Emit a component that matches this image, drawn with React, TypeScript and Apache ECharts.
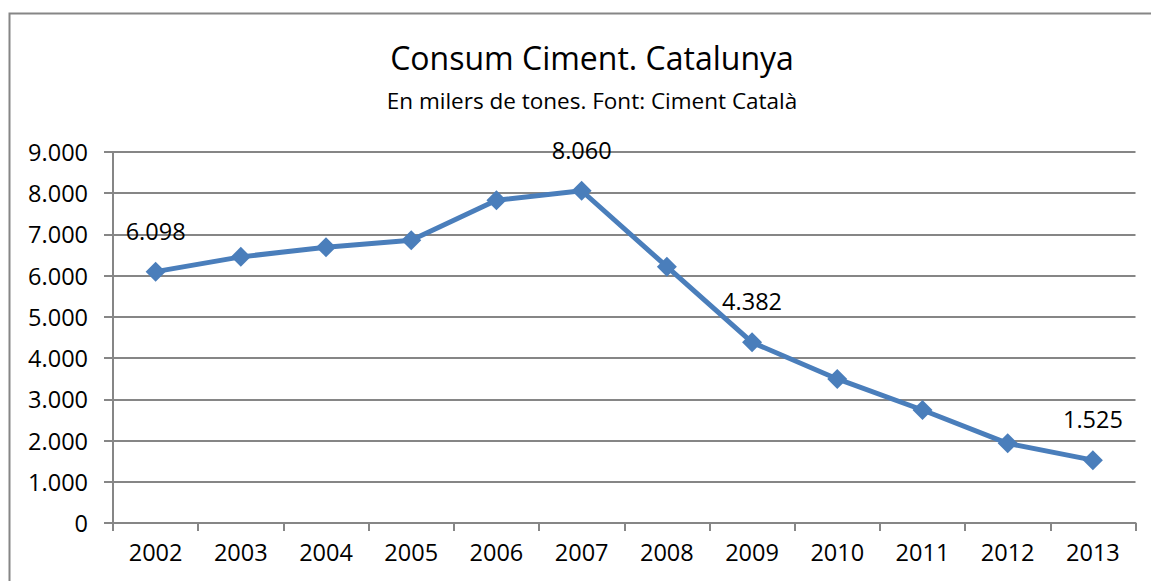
import React, { useEffect, useRef } from "react";
import * as echarts from "echarts";

const years = ["2002", "2003", "2004", "2005", "2006", "2007", "2008", "2009", "2010", "2011", "2012", "2013"];
const consum = [6098, 6456, 6690, 6860, 7830, 8060, 6218, 4382, 3494, 2741, 1933, 1525];
const labeledYears = ["2002", "2007", "2009", "2013"];
const titleText = "Consum Ciment. Catalunya";
const subtitleText = "En milers de tones. Font: Ciment Català";

const FONT = "'Open Sans', sans-serif";
const GRAY = "#868686";
const BLUE = "#4A7EBB";

function fmt(v: number): string {
  if (v < 1000) return String(v);
  const th = Math.floor(v / 1000);
  const rest = Math.round(v % 1000);
  return th + "." + String(rest).padStart(3, "0");
}

export default function App() {
  const ref = useRef<HTMLDivElement>(null);
  useEffect(() => {
    if (!ref.current) return;
    const chart = echarts.init(ref.current, null, { renderer: "svg" });
    const data = consum.map((v, i) => ({
      value: v,
      label: { show: labeledYears.includes(years[i]) },
    }));
    chart.setOption({
      animation: false,
      backgroundColor: "#ffffff",
      title: {
        text: titleText,
        subtext: subtitleText,
        left: 587,
        textAlign: "center",
        top: 36,
        itemGap: 16,
        textStyle: { fontFamily: FONT, fontSize: 32, fontWeight: "normal", color: "#000" },
        subtextStyle: { fontFamily: FONT, fontSize: 22.5, color: "#000" },
      },
      graphic: [
        {
          type: "rect",
          shape: { x: 9.5, y: 13.5, width: 1300, height: 700 },
          style: { fill: "none", stroke: GRAY, lineWidth: 2 },
          silent: true,
        },
      ],
      grid: { left: 113, right: 15.5, top: 152, bottom: 58, containLabel: false },
      xAxis: {
        type: "category",
        data: years,
        boundaryGap: true,
        axisLine: { lineStyle: { color: GRAY, width: 2 } },
        axisTick: { show: true, length: 8, lineStyle: { color: GRAY, width: 2 } },
        axisLabel: { fontFamily: FONT, fontSize: 23.5, color: "#000", margin: 17 },
      },
      yAxis: {
        type: "value",
        min: 0,
        max: 9000,
        interval: 1000,
        axisLine: { show: true, lineStyle: { color: GRAY, width: 2 } },
        axisTick: { show: true, length: 9, lineStyle: { color: GRAY, width: 2 } },
        axisLabel: { fontFamily: FONT, fontSize: 23.5, color: "#000", margin: 25, formatter: (v: number) => fmt(v) },
        splitLine: { show: true, lineStyle: { color: GRAY, width: 2 } },
      },
      series: [
        {
          type: "line",
          data,
          symbol: "diamond",
          symbolSize: 20,
          showAllSymbol: true,
          lineStyle: { color: BLUE, width: 5 },
          itemStyle: { color: BLUE },
          label: {
            position: "top",
            distance: 19,
            fontFamily: FONT,
            fontSize: 23.5,
            color: "#000",
            formatter: (p: any) => fmt(p.value),
          },
        },
      ],
    });
    return () => chart.dispose();
  }, []);
  return (
    <div
      ref={ref}
      style={{ position: "fixed", left: 0, top: 0, width: 1151, height: 581, background: "#fff" }}
    />
  );
}
